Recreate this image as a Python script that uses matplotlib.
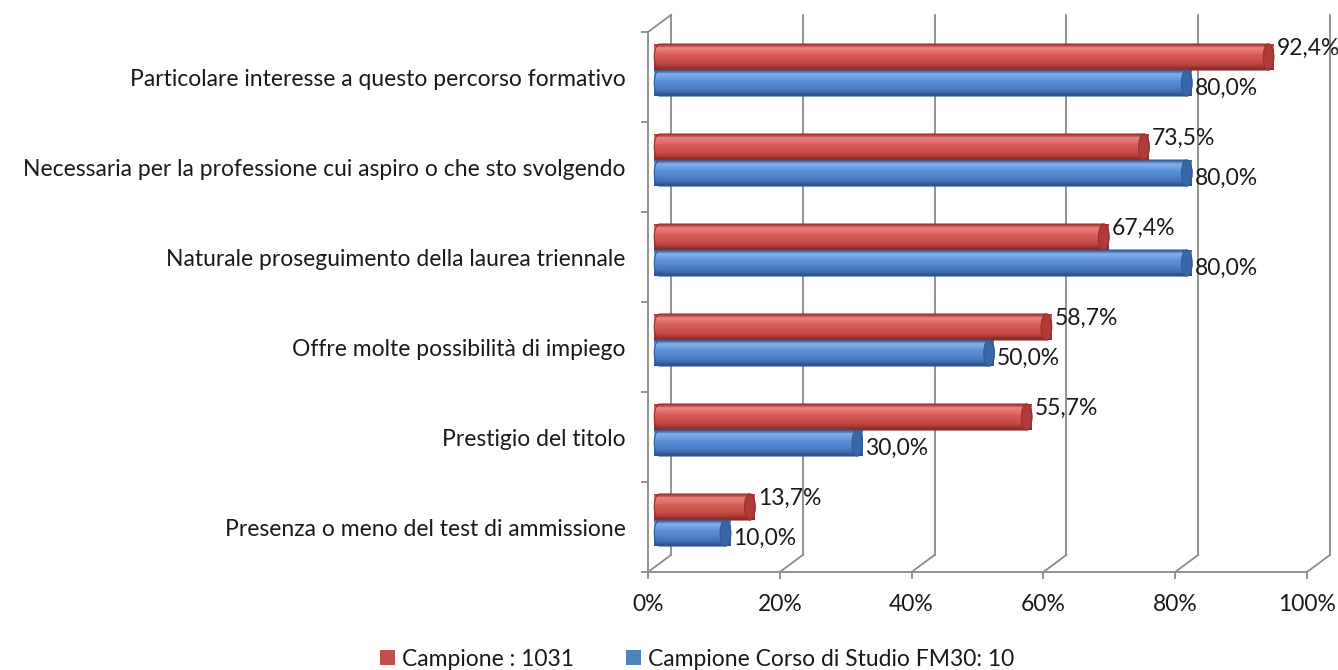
import numpy as np
import matplotlib
matplotlib.use('Agg')
import matplotlib.pyplot as plt
from matplotlib.colors import LinearSegmentedColormap
from matplotlib.patches import PathPatch, Ellipse, Patch
from matplotlib.path import Path

plt.rcParams['font.family'] = ['Lato', 'DejaVu Sans']

categories = ['Presenza o meno del test di ammissione',
              'Prestigio del titolo',
              'Offre molte possibilità di impiego',
              'Naturale proseguimento della laurea triennale',
              'Necessaria per la professione cui aspiro o che sto svolgendo',
              'Particolare interesse a questo percorso formativo']
campione = [13.7, 55.7, 58.7, 67.4, 73.5, 92.4]
corso = [10.0, 30.0, 50.0, 80.0, 80.0, 80.0]
series_names = ['Campione : 1031', 'Campione Corso di Studio FM30: 10']
xticks = [0, 20, 40, 60, 80, 100]

red_cmap = LinearSegmentedColormap.from_list('r', [(0, '#b03c39'), (0.15, '#e8827e'), (0.4, '#da5f5b'),
                                                  (0.75, '#c44844'), (1, '#862825')])
blue_cmap = LinearSegmentedColormap.from_list('b', [(0, '#3a69ab'), (0.15, '#82aeea'), (0.4, '#5e91d9'),
                                                   (0.75, '#4979c2'), (1, '#2b508a')])
cap_colors = ['#b23b37', '#3a67a8']
edge_colors = ['#943230', '#325a94']
grid_col = '#8a8a8a'
fs = 16.5

fig = plt.figure(figsize=(13.38, 6.70), dpi=100)
ax = fig.add_axes([648 / 1338, 98 / 670, 659 / 1338, 540 / 670])
ax.set_xlim(0, 100)
ax.set_ylim(0, 6)

# 3d depth offset (data units)
DX, DY = 3.5, 0.19

# back wall gridlines + floor connectors
for x in xticks:
    ax.plot([x + DX, x + DX], [DY, 6 + DY], color=grid_col, lw=1.3, clip_on=False, zorder=1)
    ax.plot([x, x + DX], [0, DY], color=grid_col, lw=1.3, clip_on=False, zorder=1)
ax.plot([0, DX], [6, 6 + DY], color=grid_col, lw=1.3, clip_on=False, zorder=1)

h = 0.289
rx = 0.8
nstrip = 30


def cylinder(v, yc, cmap, cap, edge):
    x0 = DX / 2
    x1 = x0 + v
    t = np.linspace(np.pi / 2, 3 * np.pi / 2, 30)
    left = np.column_stack([x0 + rx * np.cos(t), yc + h / 2 * np.sin(t)])
    right = np.column_stack([x1 - rx * np.cos(t), yc - h / 2 * np.sin(t)])
    pts = np.vstack([left, right, left[:1]])
    clip = PathPatch(Path(pts), facecolor='none', edgecolor=edge, lw=0.8, zorder=4, clip_on=False)
    ax.add_patch(clip)
    ys = yc + h / 2 - (np.arange(nstrip) + 0.5) * h / nstrip
    bars = ax.barh(ys, [v + 2 * rx] * nstrip, left=x0 - rx, height=h / nstrip * 1.05,
                   color=[cmap(k / (nstrip - 1)) for k in range(nstrip)], zorder=3, clip_on=False)
    for b in bars:
        b.set_clip_path(clip)
    ax.add_patch(Ellipse((x1, yc), 2 * rx, h, facecolor=cap, edgecolor=edge, lw=0.8, zorder=5))
    return x1 + rx


for i in range(len(categories)):
    xr = cylinder(campione[i], i + 0.722, red_cmap, cap_colors[0], edge_colors[0])
    ax.annotate(f'{campione[i]:.1f}%'.replace('.', ','), (xr, i + 0.722), xytext=(2, 6),
                textcoords='offset points', va='center', ha='left', fontsize=fs, color='#1a1a1a',
                annotation_clip=False)
    xb = cylinder(corso[i], i + 0.433, blue_cmap, cap_colors[1], edge_colors[1])
    ax.annotate(f'{corso[i]:.1f}%'.replace('.', ','), (xb, i + 0.433), xytext=(2, -4),
                textcoords='offset points', va='center', ha='left', fontsize=fs, color='#1a1a1a',
                annotation_clip=False)

for s in ['top', 'right']:
    ax.spines[s].set_visible(False)
for s in ['left', 'bottom']:
    ax.spines[s].set_color(grid_col)
    ax.spines[s].set_linewidth(1.3)

ax.set_xticks(xticks)
ax.set_xticklabels([f'{x}%' for x in xticks])
ax.tick_params(axis='x', length=5, width=1.3, color=grid_col, pad=11, labelsize=fs, labelcolor='#1a1a1a')
ax.set_yticks(np.arange(6) + 0.5)
ax.set_yticklabels(categories)
ax.set_yticks(np.arange(7), minor=True)
ax.tick_params(axis='y', which='major', length=0, pad=16, labelsize=fs, labelcolor='#1a1a1a')
ax.tick_params(axis='y', which='minor', length=5, width=1.3, color=grid_col)

handles = [Patch(facecolor='#c0504d'), Patch(facecolor='#4f81bd')]
fig.legend(handles, series_names, loc='center', bbox_to_anchor=(697 / 1338, 1 - 659 / 670), ncol=2,
           frameon=False, fontsize=fs, handlelength=0.65, handleheight=0.65, handletextpad=0.3,
           columnspacing=2.3, labelcolor='#1a1a1a')

fig.savefig('out.png', dpi=100)
